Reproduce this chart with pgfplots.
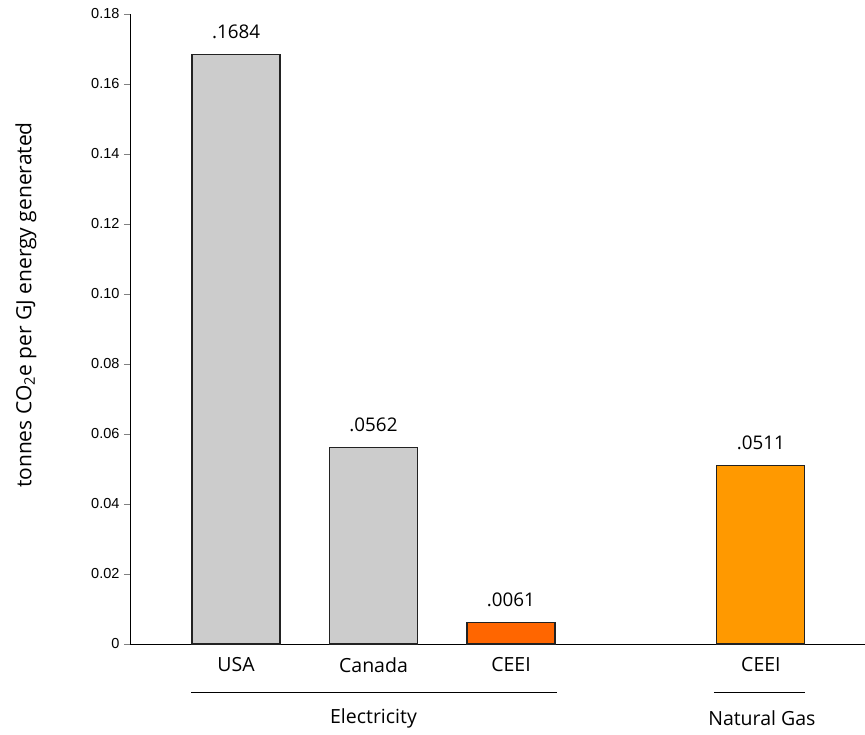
\documentclass[border=0pt]{standalone}
\usepackage{pgfplots}
\pgfplotsset{compat=1.18}
\usepackage{fontspec}
\setmainfont{Open Sans}
\newfontfamily\arialf{Liberation Sans}
\definecolor{gbar}{HTML}{CCCCCC}
\definecolor{obar}{HTML}{FF6600}
\definecolor{ngbar}{HTML}{FF9900}
\definecolor{edge}{HTML}{222222}
\begin{document}
\begin{tikzpicture}
\begin{axis}[
  scale only axis, width=735pt, height=630pt,
  xmin=-0.771, xmax=4.575, ymin=0, ymax=0.18,
  axis x line=bottom, axis y line=left,
  axis line style={-, line width=0.9pt},
  ytick={0,0.02,0.04,0.06,0.08,0.10,0.12,0.14,0.16,0.18},
  yticklabels={0,0.02,0.04,0.06,0.08,0.10,0.12,0.14,0.16,0.18},
  y tick label style={font=\arialf\fontsize{14.5}{15}\selectfont, xshift=-1pt},
  ytick style={line width=0.9pt},
  tick align=outside, major tick length=6pt,
  xtick={0,1,2,3.818}, xticklabels={USA,Canada,CEEI,CEEI},
  x tick style={draw=none},
  x tick label style={font=\fontsize{19.5}{21}\selectfont, anchor=north, yshift=-4pt},
  ylabel={tonnes CO\textsubscript{2}e per GJ energy generated},
  every axis y label/.style={at={(axis description cs:0,0.538)}, xshift=-104pt, rotate=90, anchor=center, font=\fontsize{21}{23}\selectfont},
  ybar, bar width=0.64, bar shift=0pt,
  every node near coord/.append style={font=\fontsize{18.8}{20}\selectfont, anchor=south, yshift=12pt, black},
  clip=false,
]
\addplot[fill=gbar, draw=edge, line width=1.1pt, nodes near coords={.1684}] coordinates {(0,0.1684)};
\addplot[fill=gbar, draw=edge, line width=1.1pt, nodes near coords={.0562}] coordinates {(1,0.0562)};
\addplot[fill=obar, draw=edge, line width=1.1pt, nodes near coords={.0061}] coordinates {(2,0.0061)};
\addplot[fill=ngbar, draw=edge, line width=1.1pt, nodes near coords={.0511}] coordinates {(3.818,0.0511)};
\draw[line width=0.9pt] ([yshift=-48pt]axis cs:-0.327,0) -- ([yshift=-48pt]axis cs:2.335,0);
\draw[line width=0.9pt] ([yshift=-48pt]axis cs:3.476,0) -- ([yshift=-48pt]axis cs:4.138,0);
\node[font=\fontsize{19.5}{21}\selectfont] at ([yshift=-74pt]axis cs:1,0) {Electricity};
\node[font=\fontsize{19.5}{21}\selectfont] at ([yshift=-74pt]axis cs:3.825,0) {Natural Gas};
\end{axis}
\pgfresetboundingbox
\path ([xshift=-130pt,yshift=-90pt]current axis.south west) rectangle ([yshift=14pt]current axis.north east);
\end{tikzpicture}
\end{document}
